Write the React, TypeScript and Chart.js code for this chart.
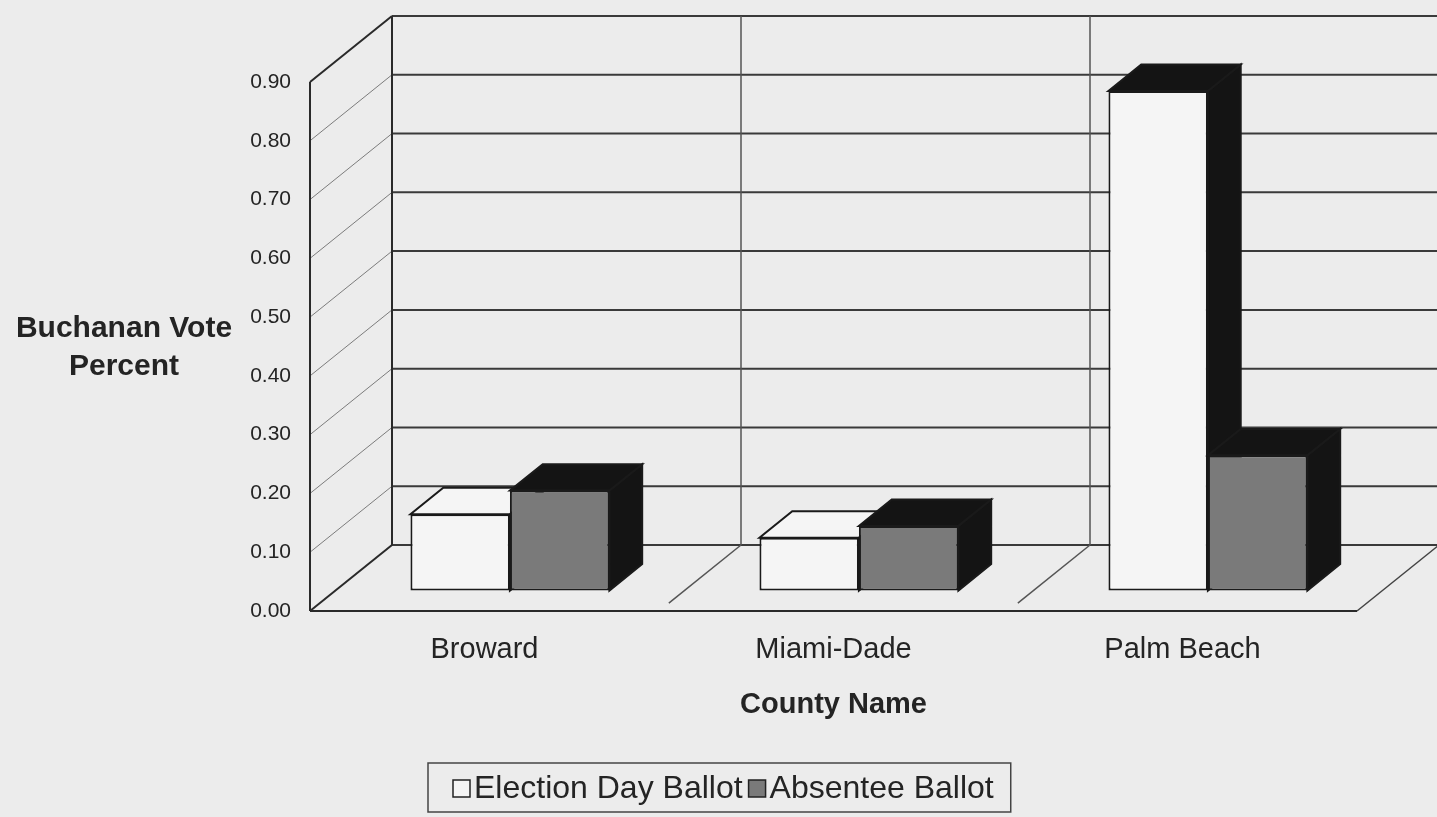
import React, { useEffect, useRef } from 'react';
import { Chart, registerables } from 'chart.js';

Chart.register(...registerables);

// ---------- data ----------
const categories = ['Broward', 'Miami-Dade', 'Palm Beach'];
const electionDayValues = [0.13, 0.09, 0.85];
const absenteeValues = [0.17, 0.11, 0.23];
const seriesNames = ['Election Day Ballot', 'Absentee Ballot'];
const yAxisTitleLines = ['Buchanan Vote', 'Percent'];
const xAxisTitle = 'County Name';
const yMin = 0;
const yMax = 0.9;
const yStep = 0.1;

// ---------- styling ----------
const W = 1437;
const H = 817;
const BG = '#ececec';
const INK = '#242424';
const FONT = "'Liberation Sans', Arial, Helvetica, sans-serif";
const DEPTH = { x: 82, y: -66 };
const BAR_SHIFT = 0.31;
const BAR_DEPTH = 0.4;
const ELECTION_FILL = '#f5f5f5';
const ABSENTEE_FILL = '#7a7a7a';
const DARK_FACE = '#141414';

const line = (ctx: CanvasRenderingContext2D, x1: number, y1: number, x2: number, y2: number) => {
  ctx.beginPath();
  ctx.moveTo(x1, y1);
  ctx.lineTo(x2, y2);
  ctx.stroke();
};

const poly = (ctx: CanvasRenderingContext2D, pts: number[][], fill: string) => {
  ctx.beginPath();
  ctx.moveTo(pts[0][0], pts[0][1]);
  for (let i = 1; i < pts.length; i++) ctx.lineTo(pts[i][0], pts[i][1]);
  ctx.closePath();
  ctx.fillStyle = fill;
  ctx.fill();
  ctx.stroke();
};

const backgroundPlugin = {
  id: 'bgFill',
  beforeDraw(chart: any) {
    const ctx = chart.ctx;
    ctx.save();
    ctx.fillStyle = BG;
    ctx.fillRect(0, 0, chart.width, chart.height);
    ctx.restore();
  },
};

const wallsPlugin = {
  id: 'walls3d',
  beforeDatasetsDraw(chart: any) {
    const { ctx, chartArea: a, scales } = chart;
    const xs = scales.x;
    const ys = scales.y;
    const dx = DEPTH.x;
    const dy = DEPTH.y;
    const n = chart.data.labels.length;
    ctx.save();
    ctx.lineCap = 'butt';

    // left wall diagonals
    ctx.strokeStyle = '#7c7c7c';
    ctx.lineWidth = 1;
    ys.ticks.forEach((t: any) => {
      const py = ys.getPixelForValue(t.value);
      if (t.value <= yMin + 1e-9 || t.value >= yMax - 1e-9) return;
      line(ctx, a.left, py, a.left + dx, py + dy);
    });

    // back wall gridlines
    ctx.strokeStyle = '#3a3a3a';
    ctx.lineWidth = 2;
    ys.ticks.forEach((t: any) => {
      const py = ys.getPixelForValue(t.value);
      line(ctx, a.left + dx, py + dy, chart.width + 5, py + dy);
    });

    // boundaries between categories
    const boundaries: number[] = [];
    for (let i = 1; i < n; i++) {
      boundaries.push((xs.getPixelForValue(i - 1) + xs.getPixelForValue(i)) / 2);
    }
    ctx.strokeStyle = '#555';
    ctx.lineWidth = 1.5;
    boundaries.forEach((b) => {
      line(ctx, b + dx, a.top + dy, b + dx, a.bottom + dy);
    });
    // floor diagonals
    boundaries.forEach((b) => {
      line(ctx, b + dx, a.bottom + dy, b + dx * 0.12, a.bottom + dy * 0.12);
    });

    // outlines
    ctx.strokeStyle = '#2a2a2a';
    ctx.lineWidth = 2;
    line(ctx, a.left, a.top, a.left, a.bottom);
    line(ctx, a.left, a.top, a.left + dx, a.top + dy);
    line(ctx, a.left + dx, a.top + dy, a.left + dx, a.bottom + dy);
    line(ctx, a.left, a.bottom, a.left + dx, a.bottom + dy);
    line(ctx, a.left, a.bottom, a.right, a.bottom);
    ctx.lineWidth = 1.5;
    ctx.strokeStyle = '#444';
    line(ctx, a.right, a.bottom, a.right + dx, a.bottom + dy);
    ctx.restore();
  },
};

// Chart.js draws datasets last-to-first; we draw the bars ourselves (first-to-last)
// through the library's own bar elements so that right-hand fronts cover left-hand sides.
const bars3dPlugin = {
  id: 'bars3d',
  beforeDatasetDraw() {
    return false;
  },
  afterDatasetsDraw(chart: any) {
    const ctx = chart.ctx;
    const bx = DEPTH.x * BAR_DEPTH;
    const by = DEPTH.y * BAR_DEPTH;
    ctx.save();
    ctx.translate(DEPTH.x * BAR_SHIFT, DEPTH.y * BAR_SHIFT);
    const n = chart.data.labels.length;
    for (let i = 0; i < n; i++) {
      chart.data.datasets.forEach((ds: any, di: number) => {
        const meta = chart.getDatasetMeta(di);
        if (meta.hidden) return;
        const bar: any = meta.data[i];
        if (!bar) return;
        bar.draw(ctx, chart.chartArea);
        const { x, y, base, width } = bar.getProps(['x', 'y', 'base', 'width'], true);
        const l = x - width / 2;
        const r = x + width / 2;
        const top = Math.min(y, base);
        const bot = Math.max(y, base);
        ctx.strokeStyle = '#1a1a1a';
        ctx.lineWidth = 2;
        ctx.lineJoin = 'miter';
        poly(ctx, [[r, top], [r + bx, top + by], [r + bx, bot + by], [r, bot]], ds.sideColor);
        poly(ctx, [[l, top], [r, top], [r + bx, top + by], [l + bx, top + by]], ds.topColors[i]);
      });
    }
    ctx.restore();
  },
};

const titlesLegendPlugin = {
  id: 'titlesLegend',
  afterDraw(chart: any) {
    const ctx = chart.ctx;
    ctx.save();
    // y axis title (horizontal, two lines)
    ctx.fillStyle = INK;
    ctx.font = `bold 30px ${FONT}`;
    ctx.textAlign = 'center';
    ctx.textBaseline = 'middle';
    ctx.fillText(yAxisTitleLines[0], 124, 329);
    ctx.fillText(yAxisTitleLines[1], 124, 367);

    // legend
    const box = { left: 428, top: 763, height: 49, padL: 25, padR: 17, sq: 17, gap: 4, itemGap: 6 };
    ctx.font = `32px ${FONT}`;
    ctx.textAlign = 'left';
    const cy = box.top + box.height / 2 + 1;
    let cx = box.left + box.padL;
    chart.data.datasets.forEach((ds: any) => {
      ctx.fillStyle = ds.backgroundColor;
      ctx.strokeStyle = '#222';
      ctx.lineWidth = 1.5;
      ctx.fillRect(cx, cy - box.sq / 2, box.sq, box.sq);
      ctx.strokeRect(cx, cy - box.sq / 2, box.sq, box.sq);
      cx += box.sq + box.gap;
      ctx.fillStyle = INK;
      ctx.fillText(ds.label, cx, cy + 1);
      cx += ctx.measureText(ds.label).width + box.itemGap;
    });
    const right = cx - box.itemGap + box.padR;
    ctx.strokeStyle = '#444';
    ctx.lineWidth = 1.5;
    ctx.strokeRect(box.left, box.top, right - box.left, box.height);
    ctx.restore();
  },
};

export default function App() {
  const canvasRef = useRef<HTMLCanvasElement | null>(null);

  useEffect(() => {
    document.body.style.margin = '0';
    document.body.style.background = BG;
    const canvas = canvasRef.current;
    if (!canvas) return;
    const chart = new Chart(canvas, {
      type: 'bar',
      data: {
        labels: categories,
        datasets: [
          {
            label: seriesNames[0],
            data: electionDayValues,
            backgroundColor: ELECTION_FILL,
            borderColor: '#1a1a1a',
            borderWidth: 2,
            borderSkipped: false,
            sideColor: DARK_FACE,
            topColors: [ELECTION_FILL, ELECTION_FILL, DARK_FACE],
          } as any,
          {
            label: seriesNames[1],
            data: absenteeValues,
            backgroundColor: ABSENTEE_FILL,
            borderColor: '#1a1a1a',
            borderWidth: 2,
            borderSkipped: false,
            sideColor: DARK_FACE,
            topColors: [DARK_FACE, DARK_FACE, DARK_FACE],
          } as any,
        ],
      },
      options: {
        responsive: false,
        animation: false,
        devicePixelRatio: 1,
        layout: { padding: { left: 0, right: 80, top: 82, bottom: 0 } },
        datasets: { bar: { categoryPercentage: 0.57, barPercentage: 1 } },
        plugins: {
          legend: { display: false },
          tooltip: { enabled: false },
          title: { display: false },
        },
        scales: {
          x: {
            grid: { display: false, drawTicks: false },
            border: { display: false },
            ticks: { font: { family: FONT, size: 29 }, color: INK, padding: 22 },
            title: {
              display: true,
              text: xAxisTitle,
              font: { family: FONT, size: 29, weight: 'bold' },
              color: INK,
              padding: { top: 0, bottom: 95 },
            },
            afterFit: (s: any) => {
              s.height = 206;
            },
          },
          y: {
            min: yMin,
            max: yMax,
            grid: { display: false, drawTicks: false },
            border: { display: false },
            ticks: {
              stepSize: yStep,
              font: { family: FONT, size: 21 },
              color: INK,
              padding: 19,
              callback: (v: any) => Number(v).toFixed(2),
            },
            afterFit: (s: any) => {
              s.width = 310;
            },
          },
        },
      },
      plugins: [backgroundPlugin, wallsPlugin, bars3dPlugin, titlesLegendPlugin],
    });
    return () => chart.destroy();
  }, []);

  return (
    <div style={{ width: W, height: H }}>
      <canvas ref={canvasRef} width={W} height={H} style={{ display: 'block', width: W, height: H }} />
    </div>
  );
}
